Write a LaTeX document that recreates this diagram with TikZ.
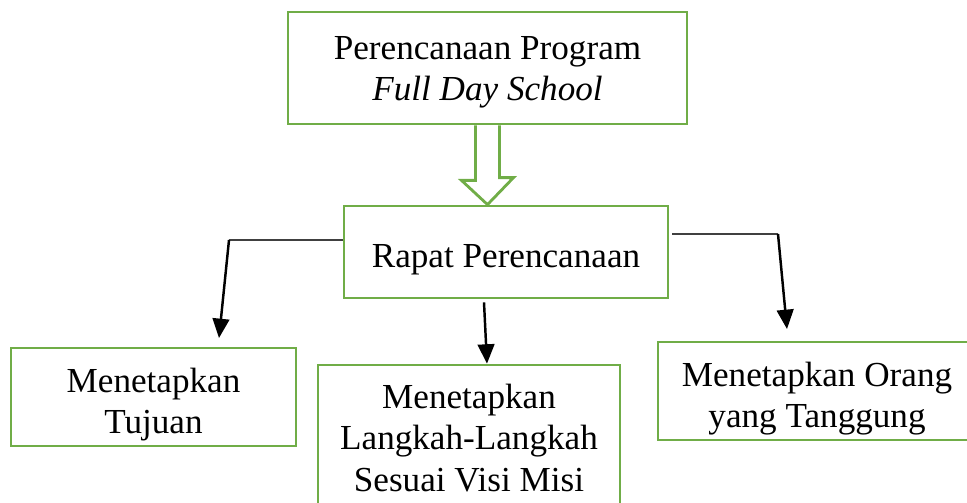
\documentclass[tikz,border=0pt]{standalone}
\usepackage{fontspec}
\setmainfont{Liberation Serif}
\usepackage{tikz}
\usetikzlibrary{arrows.meta,positioning,calc}
\usepackage{xcolor}
\definecolor{boxgreen}{RGB}{112,173,71}
\definecolor{linegray}{RGB}{64,64,64}
\newcommand{\dropstrut}[1]{\rule{0pt}{#1}}
\tikzstyle{greenbox} = [rectangle, draw=boxgreen, line width=1.6pt, fill=white, align=center, inner sep=0pt, font=\fontsize{20}{23.5}\selectfont]
\tikzstyle{hollow} = [draw=boxgreen, line width=1.6pt, fill=white, line join=miter]
\tikzstyle{arrow} = [line width=1.4pt, -{Triangle[width=9.5pt,length=11pt]}]
\tikzstyle{branch} = [line width=0.85pt, color=linegray]

\begin{document}
\begin{tikzpicture}[x=0.02cm, y=-0.02cm]
\useasboundingbox (0,0) rectangle (967,503);

\node[greenbox, minimum width=7.98cm, minimum height=2.24cm] (plan) at (487.5,68) {\dropstrut{18pt}Perencanaan Program\\\textit{Full Day School}};
\node[greenbox, minimum width=6.48cm, minimum height=1.84cm] (rapat) at (506,252) {\dropstrut{21.5pt}Rapat Perencanaan};

\node[greenbox, minimum width=5.7cm, minimum height=1.96cm] (tujuan) at (153.5,397) {\dropstrut{22.5pt}Menetapkan\\Tujuan};
\node[greenbox, minimum width=6.04cm, minimum height=2.92cm] (langkah) at (469,438) {Menetapkan\\Langkah-Langkah\\Sesuai Visi Misi};
\node[greenbox, minimum width=6.36cm, minimum height=1.96cm] (orang) at (817,391) {\dropstrut{22.5pt}Menetapkan Orang\\yang Tanggung};

% hollow arrow between the two upper boxes
\draw[hollow] ($(plan.south)+(-12,0)$) -- ++(0,55) -- ++(-14,0) -- (plan.south |- rapat.north) -- ++(26,-27) -- ++(-14,0) -- ($(plan.south)+(12,0)$);

% branches
\coordinate (lbend) at (229,240);
\coordinate (ltip) at (219,338);
\coordinate (rbend) at (778,234);
\coordinate (rtip) at (787,329);
\draw[branch] ($(rapat.west)+(0,-12)$) -- (lbend);
\draw[arrow] (lbend) -- (ltip);
\draw[arrow] ($(rapat.south)+(-22,3)$) -- ($(langkah.north)+(18,0)$);
\draw[branch] ($(rapat.east)+(3,-18)$) -- (rbend);
\draw[arrow] (rbend) -- (rtip);
\end{tikzpicture}
\end{document}
